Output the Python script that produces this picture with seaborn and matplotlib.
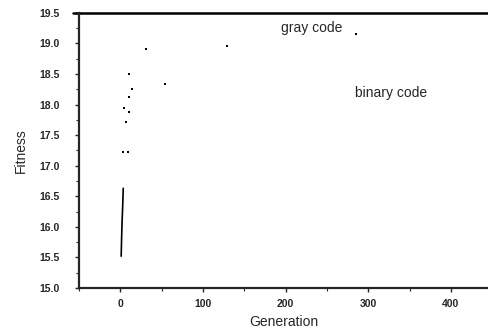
import numpy as np
import pandas as pd
import matplotlib
matplotlib.use("Agg")
import matplotlib.pyplot as plt
from matplotlib.ticker import MultipleLocator
import seaborn as sns

# early climb (solid part of the curve)
start_gen = [1, 1.5, 2, 3, 3.5]
start_fit = [15.52, 15.8, 16.05, 16.4, 16.63]

# scattered points of the two runs
gray_gen = [4, 7, 11, 11, 14, 31, 129, 285]
gray_fit = [17.95, 17.72, 17.88, 18.12, 18.26, 18.91, 18.95, 19.15]
binary_gen = [3.6, 9, 11, 54]
binary_fit = [17.22, 17.22, 18.5, 18.33]

# both settle at the maximum
top_gen = [-57, 450]
top_fit = [19.5, 19.5]

sns.set_style("ticks")
plt.rcParams['font.family'] = ['Liberation Sans', 'DejaVu Sans']

fig = plt.figure(figsize=(4.89, 3.31), dpi=100)
ax = fig.add_axes([0.1616, 0.13, 0.8384, 0.8314])

sns.lineplot(x=start_gen, y=start_fit, ax=ax, color='black', linewidth=1.2,
             sort=False, estimator=None)
sns.scatterplot(x=gray_gen, y=gray_fit, ax=ax, color='black', s=3, marker='s',
                linewidth=0)
sns.scatterplot(x=binary_gen, y=binary_fit, ax=ax, color='black', s=3, marker='s',
                linewidth=0)
sns.lineplot(x=top_gen, y=top_fit, ax=ax, color='black', linewidth=1.8,
             sort=False, estimator=None, clip_on=False)

ax.set_xlim(-50, 446)
ax.set_ylim(15.0, 19.5)
ax.xaxis.set_major_locator(MultipleLocator(100))
ax.xaxis.set_minor_locator(MultipleLocator(50))
ax.yaxis.set_major_locator(MultipleLocator(0.5))
ax.yaxis.set_minor_locator(MultipleLocator(0.25))
ax.tick_params(which='major', direction='out', length=3, width=1, labelsize=7.5)
ax.tick_params(axis='x', which='major', pad=5)
ax.tick_params(axis='y', which='major', pad=11)
ax.tick_params(which='minor', direction='out', length=2, width=0.8)
for lab in ax.get_xticklabels() + ax.get_yticklabels():
    lab.set_fontweight('bold')

for side in ['left', 'bottom']:
    ax.spines[side].set_linewidth(1.6)
ax.spines['right'].set_visible(False)
ax.spines['top'].set_visible(False)

ax.set_xlabel('Generation', fontsize=10, labelpad=4)
ax.set_ylabel('Fitness', fontsize=10, labelpad=8)

ax.text(231, 19.25, 'gray code', fontsize=10, ha='center', va='center')
ax.text(328, 18.18, 'binary code', fontsize=10, ha='center', va='center')

plt.savefig('out.png', dpi=100)
